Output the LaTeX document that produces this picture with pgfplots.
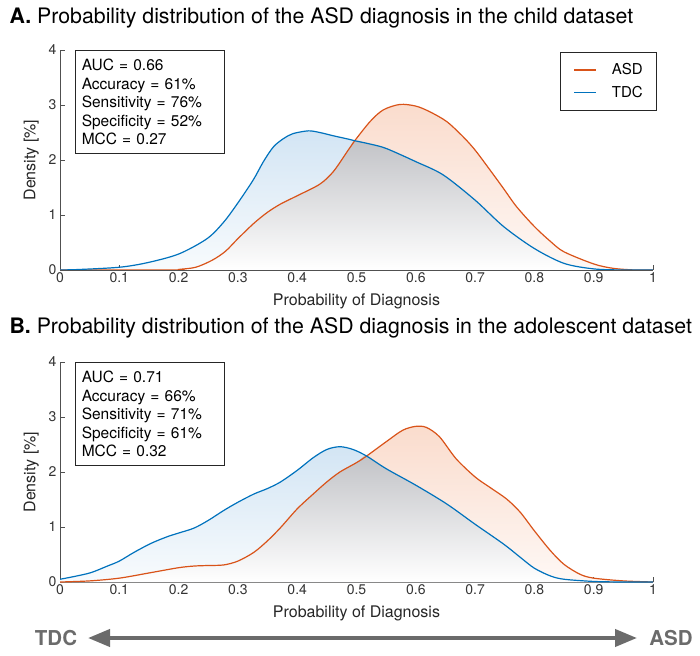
\documentclass[border=0pt]{standalone}
\usepackage{pgfplots}
\pgfplotsset{compat=1.18}
\usepackage{pgfplotstable}
\usetikzlibrary{arrows.meta}
\usepackage{fontspec}
\setmainfont{TeX Gyre Heros}
\definecolor{asdc}{HTML}{D95319}
\definecolor{tdcc}{HTML}{0072BD}
\definecolor{axc}{HTML}{505050}
\definecolor{graytop}{HTML}{C2C3C7}
\definecolor{bluetop}{HTML}{D3E5F4}
\definecolor{bluebot}{HTML}{F8FBFD}
\definecolor{orgtop}{HTML}{FADCCD}
\definecolor{orgbot}{HTML}{FEF8F5}
\definecolor{arrc}{HTML}{6B6B6B}

\pgfplotstableread{
x y
0 0
0.034 0.01
0.1 0.05
0.146 0.13
0.2 0.29
0.248 0.57
0.276 0.87
0.3 1.22
0.326 1.64
0.343 1.97
0.36 2.24
0.377 2.39
0.393 2.48
0.419 2.53
0.438 2.50
0.461 2.44
0.486 2.38
0.497 2.35
0.523 2.29
0.55 2.21
0.6 1.97
0.646 1.73
0.7 1.27
0.748 0.79
0.8 0.39
0.85 0.12
0.9 0.02
0.95 0.0
1 0
}\tdcA
\pgfplotstableread{
x y
0 0
0.19 0
0.2 0.01
0.229 0.05
0.257 0.18
0.279 0.34
0.3 0.57
0.327 0.85
0.35 1.05
0.372 1.20
0.4 1.35
0.438 1.56
0.461 1.79
0.486 2.18
0.497 2.35
0.523 2.70
0.545 2.91
0.573 3.01
0.6 2.98
0.623 2.88
0.652 2.70
0.68 2.42
0.7 2.18
0.725 1.82
0.748 1.48
0.77 1.15
0.8 0.79
0.827 0.52
0.85 0.33
0.9 0.11
0.933 0.03
0.97 0
1 0
}\asdA
\pgfplotstableread{
x y
0 0
0.19 0
0.2 0.01
0.229 0.05
0.257 0.18
0.279 0.34
0.3 0.57
0.327 0.85
0.35 1.05
0.372 1.20
0.4 1.35
0.438 1.56
0.461 1.79
0.486 2.18
0.497 2.35
0.523 2.29
0.55 2.21
0.6 1.97
0.646 1.73
0.7 1.27
0.748 0.79
0.8 0.39
0.85 0.12
0.9 0.02
0.95 0.0
1 0
}\minA
\pgfplotstableread{
x y
0 0.05
0.024 0.10
0.052 0.17
0.08 0.29
0.1 0.38
0.125 0.54
0.153 0.70
0.18 0.82
0.2 0.89
0.226 0.98
0.25 1.12
0.276 1.30
0.3 1.45
0.327 1.60
0.35 1.70
0.372 1.82
0.4 2.03
0.427 2.26
0.45 2.41
0.472 2.46
0.494 2.41
0.517 2.29
0.55 2.06
0.6 1.76
0.652 1.42
0.7 1.05
0.748 0.69
0.776 0.45
0.8 0.25
0.827 0.11
0.85 0.05
0.9 0.01
0.95 0
1 0
}\tdcB
\pgfplotstableread{
x y
0 0
0.05 0.02
0.1 0.07
0.153 0.17
0.2 0.26
0.226 0.29
0.25 0.30
0.276 0.31
0.3 0.38
0.327 0.54
0.35 0.75
0.372 0.99
0.4 1.33
0.427 1.60
0.45 1.82
0.472 2.0
0.5 2.17
0.517 2.29
0.55 2.55
0.578 2.76
0.6 2.83
0.618 2.81
0.64 2.64
0.668 2.24
0.7 1.91
0.725 1.72
0.753 1.51
0.776 1.27
0.8 0.93
0.827 0.57
0.85 0.32
0.877 0.14
0.9 0.07
0.95 0.02
1 0
}\asdB
\pgfplotstableread{
x y
0 0
0.05 0.02
0.1 0.07
0.153 0.17
0.2 0.26
0.226 0.29
0.25 0.30
0.276 0.31
0.3 0.38
0.327 0.54
0.35 0.75
0.372 0.99
0.4 1.33
0.427 1.60
0.45 1.82
0.472 2.0
0.5 2.17
0.517 2.29
0.55 2.06
0.6 1.76
0.652 1.42
0.7 1.05
0.748 0.69
0.776 0.45
0.8 0.25
0.827 0.11
0.85 0.05
0.9 0.01
0.95 0
1 0
}\minB

\pgfplotsset{
  panel/.style={
    scale only axis, width=593pt, height=220pt,
    xmin=0, xmax=1, ymin=0, ymax=4,
    axis lines*=left,
    axis line style={axc, line width=0.9pt},
    tick style={axc, line width=0.9pt},
    major tick length=5pt,
    tick align=inside,
    xtick={0,0.1,...,1}, ytick={0,1,2,3,4},
    /pgf/number format/assume math mode=true,
    ticklabel style={font=\fontsize{14}{16}\selectfont, text=black!80},
    xticklabel style={yshift=1pt},
    xlabel={Probability of Diagnosis},
    ylabel={Density [\%]},
    label style={font=\fontsize{16}{18}\selectfont, text=black!85},
    xlabel style={yshift=-4pt},
    ylabel style={yshift=3pt},
  },
  linea/.style={asdc, line width=1.2pt, smooth},
  lineb/.style={tdcc, line width=1.2pt, smooth},
}
\tikzset{
  statbox/.style={draw=black!85, line width=0.9pt, anchor=north west, align=left, text width=136pt,
    inner xsep=6.5pt, inner ysep=8.5pt, font=\fontsize{15.5}{18.6}\selectfont},
}

\begin{document}
\begin{tikzpicture}
\path[use as bounding box] (0pt,0pt) rectangle (700pt,655pt);

\node[anchor=west, font=\fontsize{21.3}{24}\selectfont] at (6pt,637pt) {\textbf{A.} Probability distribution of the ASD diagnosis in the child dataset};
\node[anchor=west, font=\fontsize{21.3}{24}\selectfont] at (6pt,327pt) {\textbf{B.} Probability distribution of the ASD diagnosis in the adolescent dataset};

\begin{axis}[panel, at={(60pt,385pt)}, anchor=south west,
  legend style={at={(1.007,0.99)}, anchor=north east, draw=black!85, line width=0.9pt,
    inner xsep=13pt, inner ysep=10pt, font=\fontsize{15}{17}\selectfont, row sep=8pt,
    nodes={inner sep=1pt}},
  legend image code/.code={\draw[#1] (0pt,0pt) -- (22pt,0pt);},
  legend cell align=left]
\addplot[draw=none, top color=orgtop, bottom color=orgbot, smooth, forget plot] table {\asdA} \closedcycle;
\addplot[draw=none, top color=bluetop, bottom color=bluebot, smooth, forget plot] table {\tdcA} \closedcycle;
\addplot[draw=none, top color=graytop, bottom color=white, smooth, forget plot] table {\minA} \closedcycle;
\addplot[linea] table {\asdA};
\addlegendentry{\hspace{14pt}ASD}
\addplot[lineb] table {\tdcA};
\addlegendentry{\hspace{14pt}TDC}
\node[statbox] at (rel axis cs:0.025,1) {AUC = 0.66\\Accuracy = 61\%\\Sensitivity = 76\%\\Specificity = 52\%\\MCC = 0.27};
\end{axis}

\begin{axis}[panel, at={(60pt,73pt)}, anchor=south west]
\addplot[draw=none, top color=orgtop, bottom color=orgbot, smooth, forget plot] table {\asdB} \closedcycle;
\addplot[draw=none, top color=bluetop, bottom color=bluebot, smooth, forget plot] table {\tdcB} \closedcycle;
\addplot[draw=none, top color=graytop, bottom color=white, smooth, forget plot] table {\minB} \closedcycle;
\addplot[linea] table {\asdB};
\addplot[lineb] table {\tdcB};
\node[statbox] at (rel axis cs:0.025,1) {AUC = 0.71\\Accuracy = 66\%\\Sensitivity = 71\%\\Specificity = 61\%\\MCC = 0.32};
\end{axis}

\draw[arrc, line width=4pt, {Triangle[length=22pt,width=17pt]}-{Triangle[length=22pt,width=17pt]}] (88pt,17pt) -- (637pt,17pt);
\node[arrc, font=\fontsize{20.5}{23}\selectfont\bfseries] at (56pt,17pt) {TDC};
\node[arrc, font=\fontsize{20.5}{23}\selectfont\bfseries] at (671pt,17pt) {ASD};
\end{tikzpicture}
\end{document}
